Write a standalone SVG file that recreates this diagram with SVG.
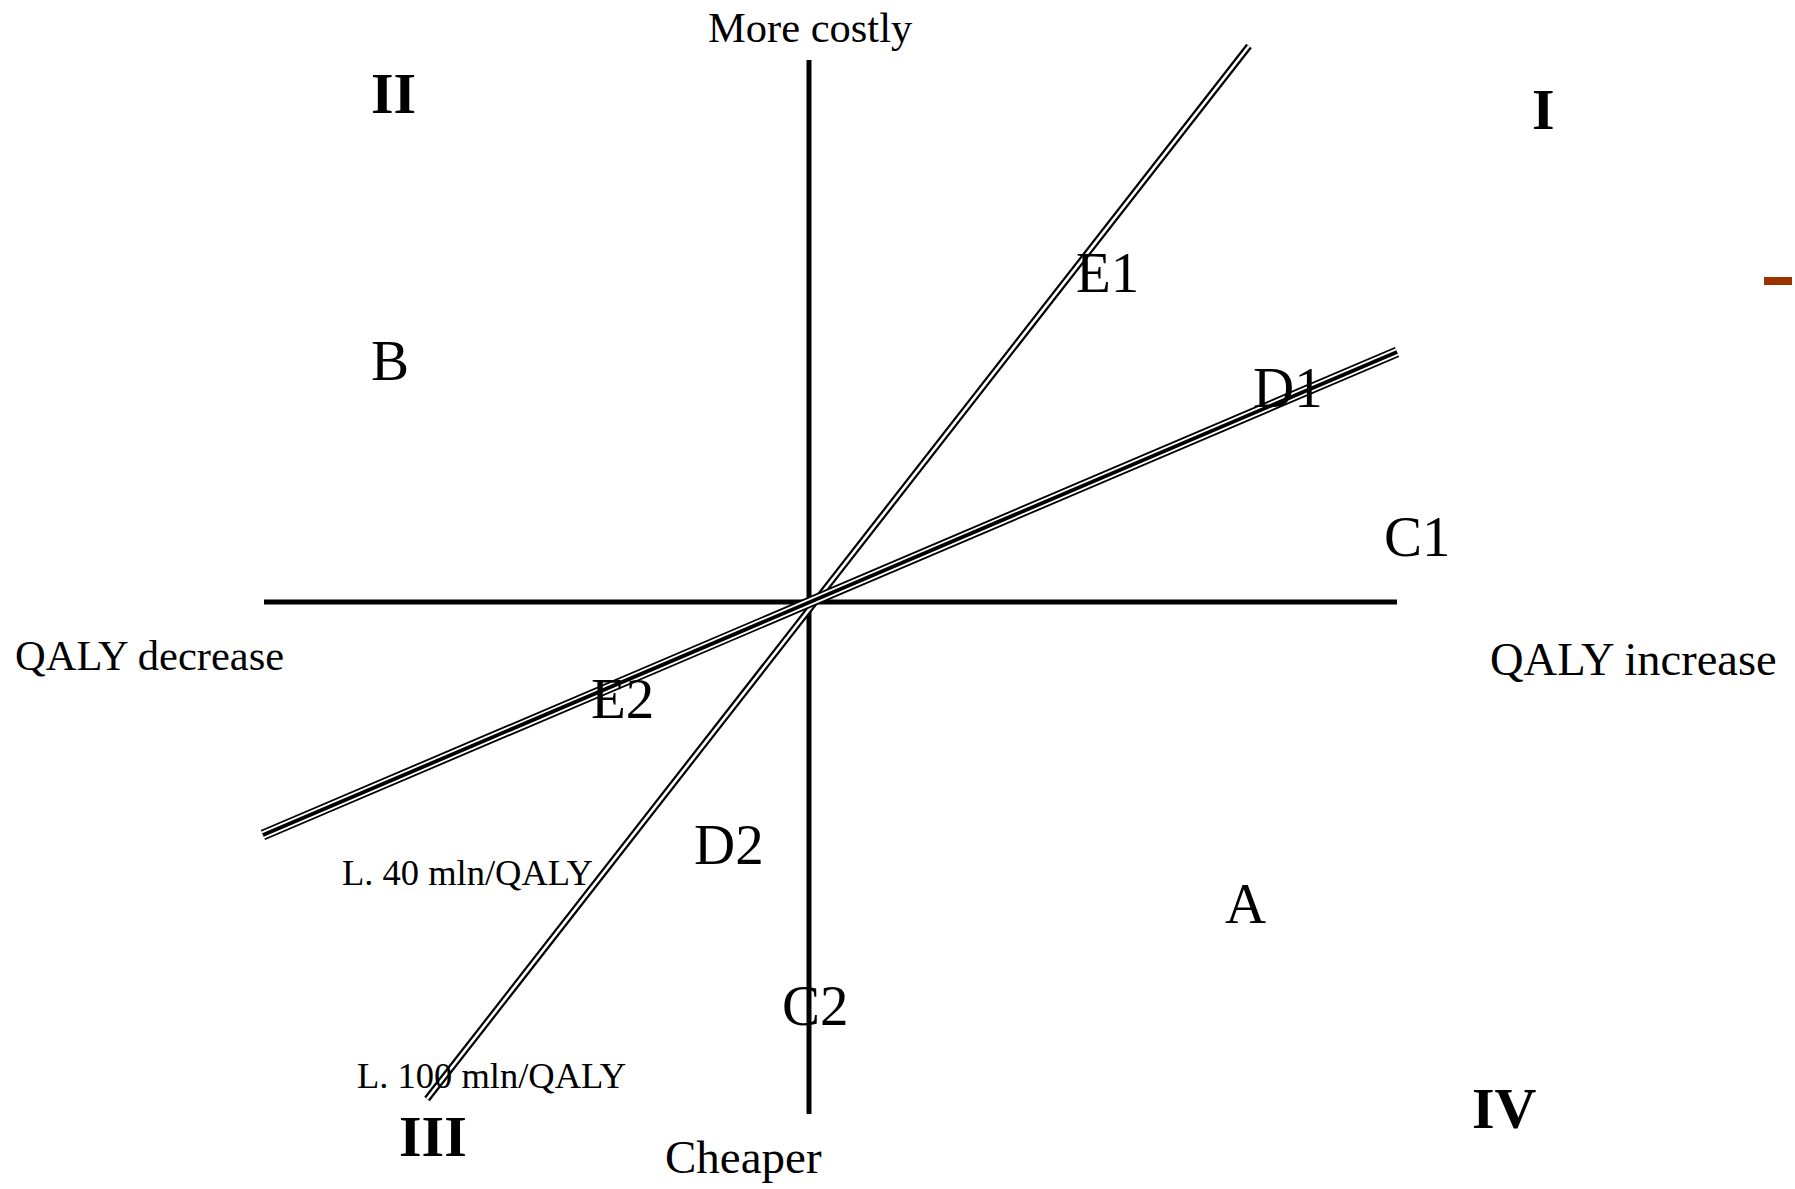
<svg xmlns="http://www.w3.org/2000/svg" width="1795" height="1189" viewBox="0 0 1795 1189">
<style>
text{font-family:"Liberation Serif","Times New Roman",serif;fill:#000}
.ax{font-size:42px}
.pt{font-size:57px}
.q{font-size:58px;font-weight:bold}
.lb{font-size:36.5px}
.axis{stroke:#000;stroke-width:5;fill:none}
</style>
<rect width="1795" height="1189" fill="#fff"/>
<g id="connectors">
<line id="axis-v" class="axis" x1="809" y1="60" x2="809" y2="1114"/>
<line id="axis-h" class="axis" x1="264" y1="602" x2="1397" y2="602"/>
<g id="line-100">
<line x1="1249" y1="46" x2="427" y2="1099" stroke="#000" stroke-width="7"/>
<line x1="1249" y1="46" x2="427" y2="1099" stroke="#fff" stroke-width="2.6"/>
</g>
<g id="line-40">
<line x1="1397" y1="352" x2="263" y2="835" stroke="#000" stroke-width="11"/>
<line x1="1397" y1="352" x2="263" y2="835" stroke="#fff" stroke-width="7.4"/>
<line x1="1397" y1="352" x2="263" y2="835" stroke="#000" stroke-width="3.8"/>
</g>
</g>
<g id="labels">
<text id="more-costly" class="ax" x="708" y="42" style="font-size:42.5px">More costly</text>
<text id="qaly-decrease" class="ax" x="15" y="670" style="font-size:42.5px">QALY decrease</text>
<text id="qaly-increase" class="ax" x="1490" y="675" style="font-size:46.5px">QALY increase</text>
<text id="cheaper" class="ax" x="665" y="1173" style="font-size:47px">Cheaper</text>
</g>
<g id="quadrants">
<text id="q1" class="q" x="1532" y="129">I</text>
<text id="q2" class="q" x="371" y="113">II</text>
<text id="q3" class="q" x="399" y="1156">III</text>
<text id="q4" class="q" x="1472" y="1128">IV</text>
</g>
<g id="points">
<text id="pB" class="pt" x="371" y="380">B</text>
<text id="pE1" class="pt" x="1076" y="292">E1</text>
<text id="pD1" class="pt" x="1253" y="407">D1</text>
<text id="pC1" class="pt" x="1384" y="556">C1</text>
<text id="pE2" class="pt" x="591" y="718">E2</text>
<text id="pD2" class="pt" x="694" y="864">D2</text>
<text id="pA" class="pt" x="1225" y="923">A</text>
<text id="pC2" class="pt" x="782" y="1025">C2</text>
</g>
<g id="line-labels">
<text id="l40" class="lb" x="342" y="885">L. 40 mln/QALY</text>
<text id="l100" class="lb" x="357" y="1088">L. 100 mln/QALY</text>
</g>
<rect id="dash" x="1764" y="277" width="28" height="8" fill="#9a3300"/>
</svg>
